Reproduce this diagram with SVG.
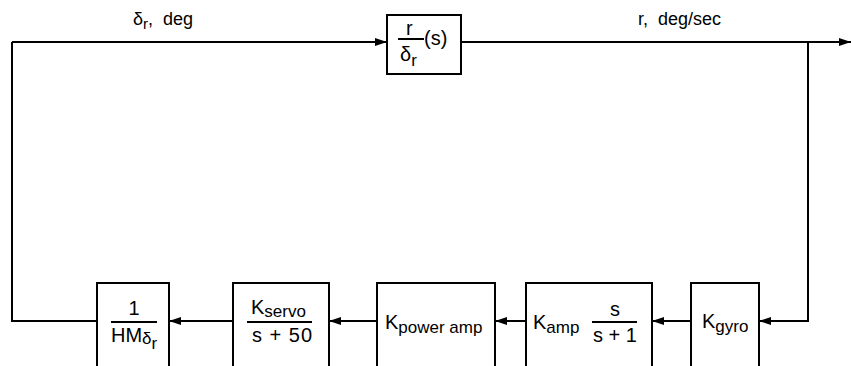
<svg xmlns="http://www.w3.org/2000/svg" width="851" height="366" viewBox="0 0 851 366">
<style>
.box{fill:#fff;stroke:#000;stroke-width:2}
.ln{fill:none;stroke:#000;stroke-width:2}
text{font-family:"Liberation Sans",Arial,sans-serif;fill:#000;white-space:pre}
.t{font-size:18px}
.m{font-size:20px}
.s{font-size:17px}
</style>
<defs>
<marker id="ah" viewBox="0 0 12 8" refX="12" refY="4" markerWidth="12" markerHeight="8" markerUnits="userSpaceOnUse" orient="auto">
<path d="M0,0 L12,4 L0,8 Z" fill="#000"/>
</marker>
</defs>
<g id="connectors">
<path class="ln" d="M12,42 L387,42" marker-end="url(#ah)"/>
<path class="ln" d="M461,42 L851,42" marker-end="url(#ah)"/>
<path class="ln" d="M808,42 L808,321 L759,321" marker-end="url(#ah)"/>
<path class="ln" d="M691,321 L652,321" marker-end="url(#ah)"/>
<path class="ln" d="M526,321 L495,321" marker-end="url(#ah)"/>
<path class="ln" d="M377,321 L329,321" marker-end="url(#ah)"/>
<path class="ln" d="M233,321 L169,321" marker-end="url(#ah)"/>
<path class="ln" d="M97,321 L12,321 L12,42"/>
<text class="t" x="133" y="25" xml:space="preserve">δ<tspan font-size="15" dy="4">r</tspan><tspan dy="-4">,  deg</tspan></text>
<text class="t" x="638" y="25" xml:space="preserve">r,  deg/sec</text>
</g>
<g id="plant">
<rect class="box" x="387" y="15" width="74" height="59"/>
<text class="m" x="406" y="35">r</text>
<line class="ln" x1="398" y1="39" x2="424" y2="39"/>
<text class="m" x="400" y="61">δ<tspan font-size="17" dy="5">r</tspan></text>
<text class="m" x="424" y="45">(s)</text>
</g>
<g id="hm">
<rect class="box" x="97" y="283" width="72" height="100"/>
<text class="m" x="134" y="315" text-anchor="middle">1</text>
<line class="ln" x1="111" y1="322" x2="157" y2="322"/>
<text class="m" x="111" y="342">HM<tspan font-size="17" dy="2">δ</tspan><tspan font-size="17" dy="5">r</tspan></text>
</g>
<g id="servo">
<rect class="box" x="233" y="283" width="96" height="100"/>
<text class="m" x="251" y="314">K<tspan class="s" dy="3">servo</tspan></text>
<line class="ln" x1="247" y1="322" x2="312" y2="322"/>
<text class="m" x="252" y="342" textLength="60">s + 50</text>
</g>
<g id="poweramp">
<rect class="box" x="377" y="283" width="118" height="100"/>
<text class="m" x="385" y="329">K<tspan class="s" dy="4">power amp</tspan></text>
</g>
<g id="amp">
<rect class="box" x="526" y="283" width="126" height="100"/>
<text class="m" x="533" y="329">K<tspan class="s" dy="4">amp</tspan></text>
<text class="m" x="615" y="316" text-anchor="middle">s</text>
<line class="ln" x1="592" y1="322" x2="637" y2="322"/>
<text class="m" x="593" y="342">s + 1</text>
</g>
<g id="gyro">
<rect class="box" x="691" y="283" width="68" height="100"/>
<text class="m" x="702" y="328">K<tspan class="s" dy="4">gyro</tspan></text>
</g>
</svg>
